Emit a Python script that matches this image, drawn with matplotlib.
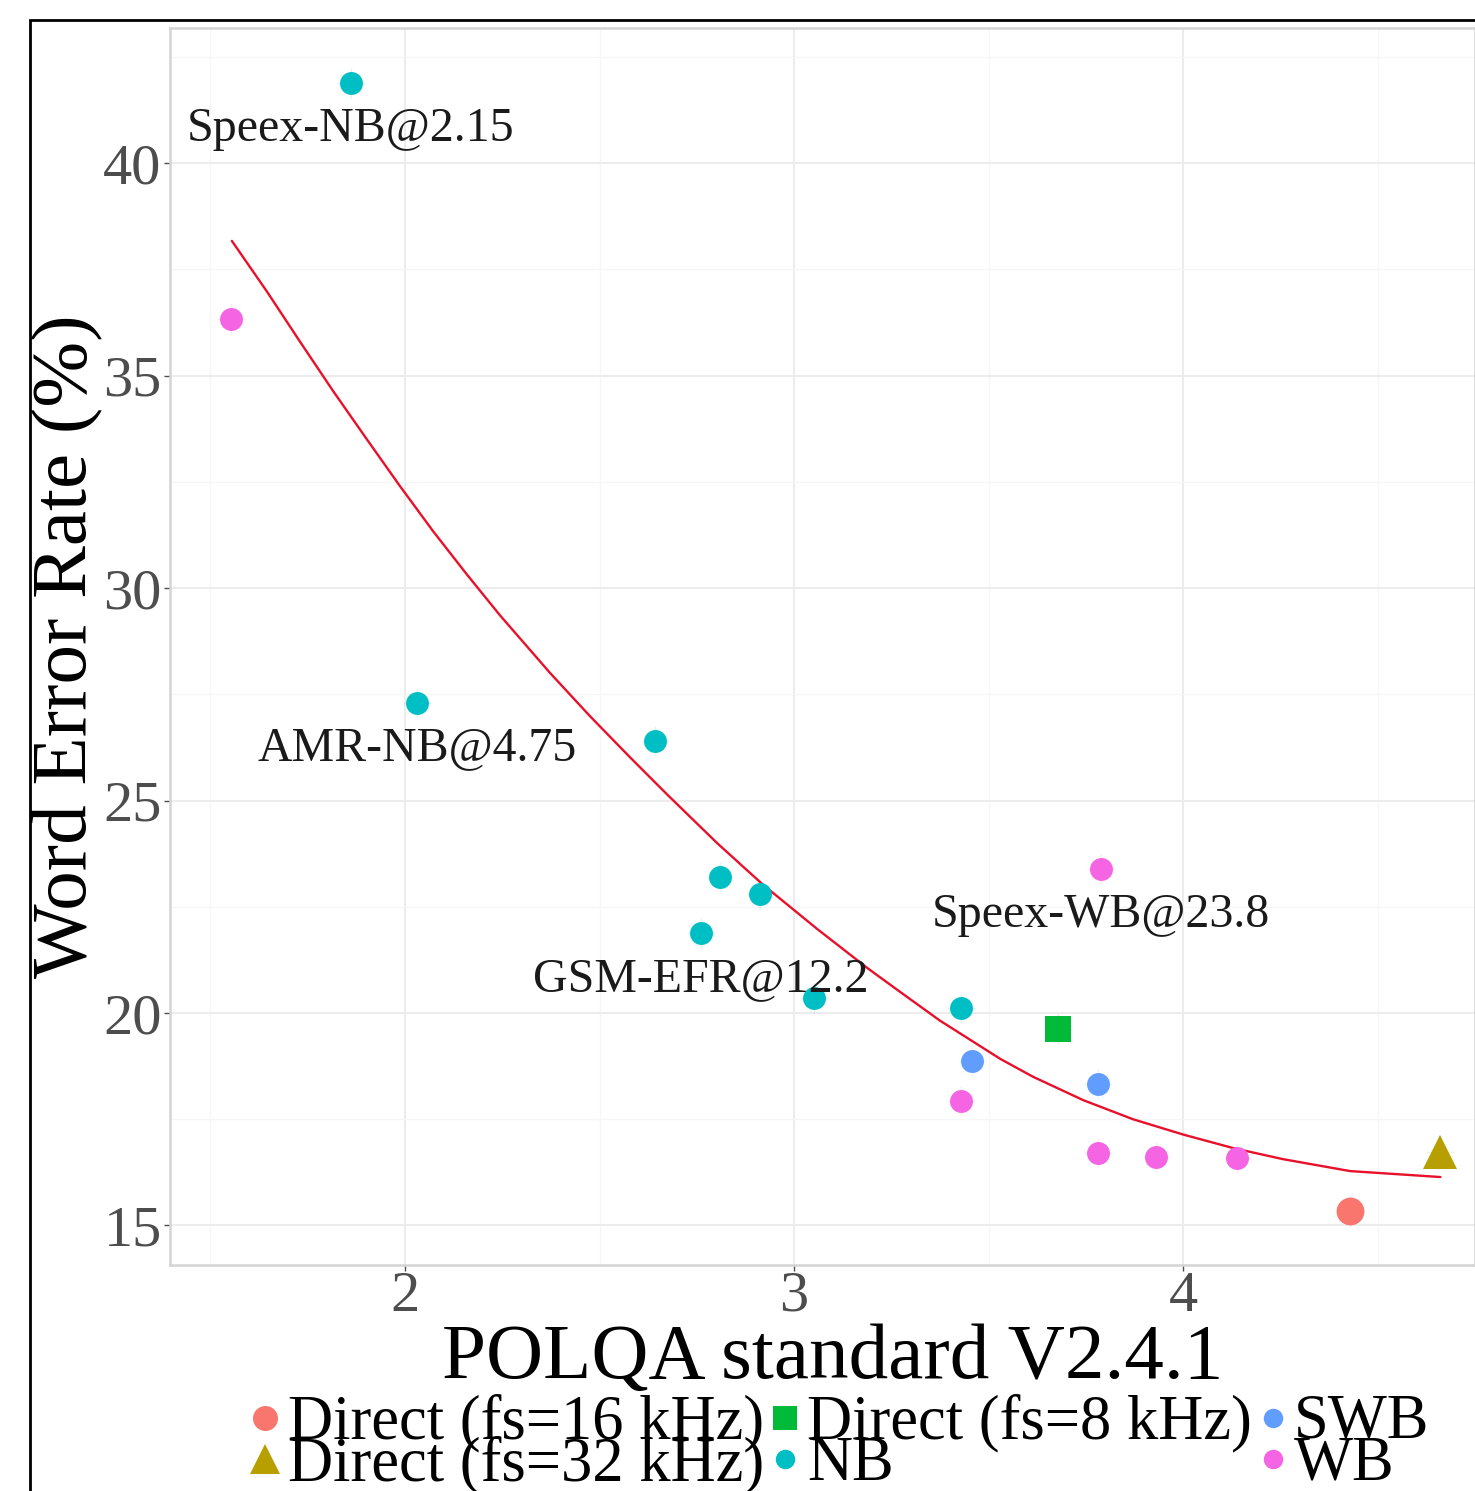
import matplotlib
matplotlib.use("Agg")
import matplotlib.pyplot as plt
from matplotlib.patches import Rectangle

# ---------------- data ----------------
groups = ["Direct (fs=16 kHz)", "Direct (fs=32 kHz)", "Direct (fs=8 kHz)", "NB", "SWB", "WB"]
group_colors = ["#F8766D", "#B79F00", "#00BA38", "#00BFC4", "#619CFF", "#F564E3"]
group_markers = ["o", "^", "s", "o", "o", "o"]
group_msize = [20, 24, 19, 16.5, 16.5, 16.5]

nb_x = [1.861, 2.031, 2.643, 2.810, 2.913, 2.761, 3.051, 3.429]
nb_y = [41.88, 27.29, 26.40, 23.20, 22.80, 21.88, 20.35, 20.12]
wb_x = [1.553, 3.789, 3.429, 3.781, 3.931, 4.139]
wb_y = [36.33, 23.39, 17.93, 16.71, 16.61, 16.59]
swb_x = [3.458, 3.781]
swb_y = [18.87, 18.33]
d8_x = [3.679]
d8_y = [19.62]
d16_x = [4.429]
d16_y = [15.34]
d32_x = [4.661]
d32_y = [16.73]

fit_x = [1.555, 1.645, 1.730, 1.815, 1.902, 1.987, 2.072, 2.159, 2.244, 2.373,
         2.476, 2.578, 2.674, 2.802, 2.920, 3.059, 3.188, 3.272, 3.375, 3.530,
         3.614, 3.743, 3.871, 4.000, 4.129, 4.257, 4.429, 4.661]
fit_y = [38.17, 36.98, 35.80, 34.64, 33.50, 32.40, 31.34, 30.32, 29.36, 28.00,
         26.98, 26.02, 25.14, 24.00, 23.02, 21.98, 21.06, 20.50, 19.82, 18.92,
         18.50, 17.95, 17.50, 17.14, 16.82, 16.56, 16.28, 16.14]

label_text = ["Speex-NB@2.15", "AMR-NB@4.75", "GSM-EFR@12.2", "Speex-WB@23.8"]
label_x = [1.861, 2.031, 2.761, 3.789]
label_y = [40.80, 26.23, 20.80, 22.30]

x_ticks = [2, 3, 4]
y_ticks = [15, 20, 25, 30, 35, 40]

series = {
    "Direct (fs=16 kHz)": (d16_x, d16_y),
    "Direct (fs=32 kHz)": (d32_x, d32_y),
    "Direct (fs=8 kHz)": (d8_x, d8_y),
    "NB": (nb_x, nb_y),
    "SWB": (swb_x, swb_y),
    "WB": (wb_x, wb_y),
}

# ---------------- figure ----------------
W, H = 1475, 1491
plt.rcParams["font.family"] = ["Liberation Serif", "DejaVu Serif"]
fig = plt.figure(figsize=(W / 100, H / 100), dpi=100)
fig.patch.set_facecolor("white")

ax = fig.add_axes([170 / W, 1 - 1265 / H, (1475 - 170) / W, (1265 - 28) / H])
ax.set_xlim(1.396, 4.75)
ax.set_ylim(14.07, 43.18)

ax.set_xticks(x_ticks)
ax.set_yticks(y_ticks)
ax.set_xticks([1.5, 2.5, 3.5, 4.5], minor=True)
ax.set_yticks([17.5, 22.5, 27.5, 32.5, 37.5, 42.5], minor=True)
ax.grid(True, which="major", color="#EBEBEB", lw=1.3, zorder=0)
ax.grid(True, which="minor", color="#F6F6F6", lw=0.9, zorder=0)
ax.set_axisbelow(True)
for s in ax.spines.values():
    s.set_color("#D4D4D4")
    s.set_linewidth(1.8)

ax.tick_params(axis="both", which="major", labelsize=42, colors="#4D4D4D",
               length=4, width=1, direction="out")
ax.tick_params(axis="x", which="major", pad=0)
ax.tick_params(axis="y", which="major", pad=2)
ax.tick_params(axis="both", which="minor", length=0)

# fit line
ax.plot(fit_x, fit_y, color="#E8102A", lw=1.7, zorder=3,
        solid_joinstyle="round", solid_capstyle="round")

# points with faint cross bars
for g, c, m, ms in zip(groups, group_colors, group_markers, group_msize):
    xs, ys = series[g]
    ax.errorbar(xs, ys, xerr=0.035, yerr=0.35, fmt="none", ecolor=c,
                elinewidth=1, alpha=0.15, zorder=2)
    ax.plot(xs, ys, linestyle="none", marker=m, color=c, markersize=ms,
            markeredgewidth=0, zorder=4)

# labels
for t, lx, ly in zip(label_text, label_x, label_y):
    ax.text(lx, ly, t, fontsize=34.5, color="#1A1A1A", ha="center", va="center", zorder=5)

# axis titles
fig.text(68 / W, 1 - 646 / H, "Word Error Rate (%)", rotation=90, fontsize=57,
         ha="center", va="center", color="black")
fig.text(833 / W, 1 - 1378 / H, "POLQA standard V2.4.1", fontsize=57,
         ha="center", va="baseline", color="black")

# legend (manual, 3 columns x 2 rows, column-major)
key_x = [265, 265, 785, 785, 1273, 1273]
text_x = [288, 288, 807, 807, 1294, 1294]
row_cy = [1418, 1459]
row_base = [1438, 1480]
leg_ms = [18, 22, 17, 14, 14, 14]
for i, (g, c, m) in enumerate(zip(groups, group_colors, group_markers)):
    r = i % 2
    fig.lines.append(plt.Line2D([key_x[i] / W], [1 - row_cy[r] / H], marker=m,
                                color=c, markersize=leg_ms[i], markeredgewidth=0,
                                linestyle="none", transform=fig.transFigure))
    fig.text(text_x[i] / W, 1 - row_base[r] / H, g, fontsize=45, ha="left",
             va="baseline", color="black")

# outer frame
fig.patches.append(Rectangle((30 / W, -0.05), 1.2, (1 - 20 / H) + 0.05, fill=False,
                             ec="black", lw=2, transform=fig.transFigure))

fig.savefig("out.png", dpi=100)
